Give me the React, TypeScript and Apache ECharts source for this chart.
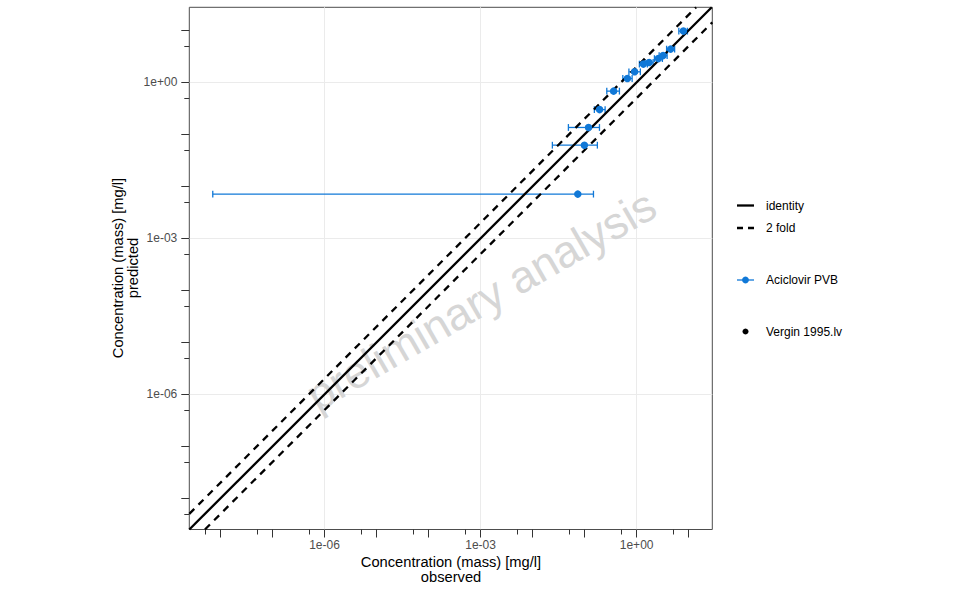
import React, { useEffect, useRef } from 'react';
import * as echarts from 'echarts';

// Observed vs predicted concentration, Aciclovir PVB (Vergin 1995.lv), values in mg/l
const observed = [7.94, 4.5, 3.23, 2.62, 1.74, 1.35, 0.915, 0.665, 0.361, 0.194, 0.119, 0.099, 0.074];
const predicted = [9.7, 4.37, 3.28, 2.87, 2.42, 2.25, 1.6, 1.19, 0.68, 0.3, 0.136, 0.062, 0.0071];
const observedLow = [6.48, 3.77, 2.71, 2.2, 1.46, 1.13, 0.711, 0.543, 0.267, 0.154, 0.0488, 0.024, 7.1e-9];
const observedHigh = [9.48, 5.38, 3.86, 3.13, 2.08, 1.61, 1.18, 0.82, 0.467, 0.248, 0.193, 0.176, 0.148];

// identity and 2-fold lines
const foldDistance = 2;

// log axes (decade exponents)
const xRange = [-8.6, 1.455];
const yRange = [-8.6, 1.445];
const labelDecades = [-6, -3, 0];
const tickDecades = [-9, -8, -7, -6, -5, -4, -3, -2, -1, 0, 1, 2];

const BLUE = '#1078d7';
const FONT = '"Liberation Sans", Arial, Helvetica, sans-serif';

const lg = (v: number) => Math.log10(v);
const expLabel = (e: number) =>
  '1e' + (e < 0 ? '-' : '+') + String(Math.round(Math.abs(e))).padStart(2, '0');

const makeAxes = (range: number[], position: 'bottom' | 'left', margin: number) => {
  const inRange = (v: number) => v >= range[0] && v <= range[1];
  const base = {
    type: 'value',
    min: range[0],
    max: range[1],
    position,
    axisLine: { show: false, onZero: false },
    splitLine: { show: false },
  };
  return [
    {
      ...base,
      axisTick: { show: false, customValues: labelDecades },
      axisLabel: {
        customValues: labelDecades,
        formatter: (v: number) => expLabel(v),
        margin,
        color: '#4d4d4d',
        fontSize: 12,
        fontFamily: FONT,
      },
      splitLine: { show: true, lineStyle: { color: '#ebebeb', width: 1 } },
    },
    {
      ...base,
      axisTick: {
        show: true,
        length: 8,
        customValues: tickDecades.filter(inRange),
        lineStyle: { color: '#333333', width: 1 },
      },
      axisLabel: { show: false },
    },
    {
      ...base,
      axisTick: {
        show: true,
        length: 5,
        customValues: tickDecades.map((d) => d + lg(5)).filter(inRange),
        lineStyle: { color: '#333333', width: 1 },
      },
      axisLabel: { show: false },
    },
  ];
};

// y = x * fold in log space, cut to the axis extents
const foldLine = (fold: number) => {
  const off = lg(fold);
  const x0 = Math.max(xRange[0], yRange[0] - off);
  const x1 = Math.min(xRange[1], yRange[1] - off);
  return [
    [x0, x0 + off],
    [x1, x1 + off],
  ];
};

const App: React.FC = () => {
  const chartRef = useRef<HTMLDivElement>(null);

  useEffect(() => {
    if (!chartRef.current) return;
    document.body.style.margin = '0';
    const chart = echarts.init(chartRef.current, undefined, { renderer: 'svg' });

    const points = observed.map((x, i) => [lg(x), lg(predicted[i])]);
    const errorBars = observed.map((x, i) => [lg(x), lg(predicted[i]), lg(observedLow[i]), lg(observedHigh[i])]);

    const textStyle = { fontFamily: FONT, fill: '#000', fontSize: 12, verticalAlign: 'middle' };

    const option: any = {
      animation: false,
      backgroundColor: '#ffffff',
      grid: {
        left: 189.3,
        top: 7.3,
        right: 960 - 712.3,
        bottom: 593 - 529.5,
        show: true,
        borderColor: '#4d4d4d',
        borderWidth: 1,
        outerBoundsMode: 'none',
      },
      xAxis: makeAxes(xRange, 'bottom', 9),
      yAxis: makeAxes(yRange, 'left', 12),
      series: [
        {
          name: 'Aciclovir PVB error',
          type: 'custom',
          z: 2,
          data: errorBars,
          encode: { x: 0, y: 1 },
          renderItem: (_params: any, api: any) => {
            const y = api.value(1);
            const lo = api.coord([api.value(2), y]);
            const hi = api.coord([api.value(3), y]);
            const cap = 3.4;
            const style = { stroke: BLUE, lineWidth: 1.3 };
            return {
              type: 'group',
              children: [
                { type: 'line', shape: { x1: lo[0], y1: lo[1], x2: hi[0], y2: hi[1] }, style },
                { type: 'line', shape: { x1: lo[0], y1: lo[1] - cap, x2: lo[0], y2: lo[1] + cap }, style },
                { type: 'line', shape: { x1: hi[0], y1: hi[1] - cap, x2: hi[0], y2: hi[1] + cap }, style },
              ],
            };
          },
        },
        {
          name: 'identity',
          type: 'line',
          z: 3,
          data: foldLine(1),
          symbol: 'none',
          lineStyle: { color: '#000', width: 2.3 },
        },
        {
          name: '2 fold',
          type: 'line',
          z: 3,
          data: foldLine(foldDistance),
          symbol: 'none',
          lineStyle: { color: '#000', width: 2.3, type: [7, 6] },
        },
        {
          name: '2 fold low',
          type: 'line',
          z: 3,
          data: foldLine(1 / foldDistance),
          symbol: 'none',
          lineStyle: { color: '#000', width: 2.3, type: [7, 6] },
        },
        {
          name: 'Aciclovir PVB',
          type: 'scatter',
          z: 4,
          data: points,
          symbolSize: 7.5,
          itemStyle: { color: BLUE, opacity: 1 },
        },
      ],
      graphic: [
        {
          type: 'text',
          z: 1,
          x: 481,
          y: 300,
          rotation: Math.PI / 6,
          style: {
            text: 'preliminary analysis',
            fontFamily: FONT,
            fontSize: 45,
            fill: '#d6d6d6',
            align: 'center',
            verticalAlign: 'middle',
          },
        },
        // axis titles
        {
          type: 'text',
          x: 451,
          y: 562,
          style: { ...textStyle, text: 'Concentration (mass) [mg/l]', fontSize: 14.7, align: 'center' },
        },
        {
          type: 'text',
          x: 451,
          y: 577,
          style: { ...textStyle, text: 'observed', fontSize: 14.7, align: 'center' },
        },
        {
          type: 'text',
          x: 118,
          y: 268,
          rotation: Math.PI / 2,
          style: { ...textStyle, text: 'Concentration (mass) [mg/l]', fontSize: 14.7, align: 'center' },
        },
        {
          type: 'text',
          x: 133,
          y: 268,
          rotation: Math.PI / 2,
          style: { ...textStyle, text: 'predicted', fontSize: 14.7, align: 'center' },
        },
        // legend
        {
          type: 'line',
          z: 10,
          shape: { x1: 737, y1: 205.5, x2: 754, y2: 205.5 },
          style: { stroke: '#000', lineWidth: 2.3 },
        },
        { type: 'text', z: 10, x: 766, y: 205.5, style: { ...textStyle, text: 'identity' } },
        {
          type: 'line',
          z: 10,
          shape: { x1: 737, y1: 228, x2: 754, y2: 228 },
          style: { stroke: '#000', lineWidth: 2.3, lineDash: [6, 5] },
        },
        { type: 'text', z: 10, x: 766, y: 228, style: { ...textStyle, text: '2 fold' } },
        {
          type: 'line',
          z: 10,
          shape: { x1: 737, y1: 280, x2: 754, y2: 280 },
          style: { stroke: BLUE, lineWidth: 1.3 },
        },
        { type: 'circle', z: 10, shape: { cx: 745.5, cy: 280, r: 3.4 }, style: { fill: BLUE } },
        { type: 'text', z: 10, x: 766, y: 280, style: { ...textStyle, text: 'Aciclovir PVB' } },
        { type: 'circle', z: 10, shape: { cx: 745.5, cy: 331.5, r: 3 }, style: { fill: '#000' } },
        { type: 'text', z: 10, x: 766, y: 331.5, style: { ...textStyle, text: 'Vergin 1995.lv' } },
      ],
    };

    chart.setOption(option);

    return () => {
      chart.dispose();
    };
  }, []);

  return <div ref={chartRef} style={{ width: 960, height: 593 }} />;
};

export default App;
